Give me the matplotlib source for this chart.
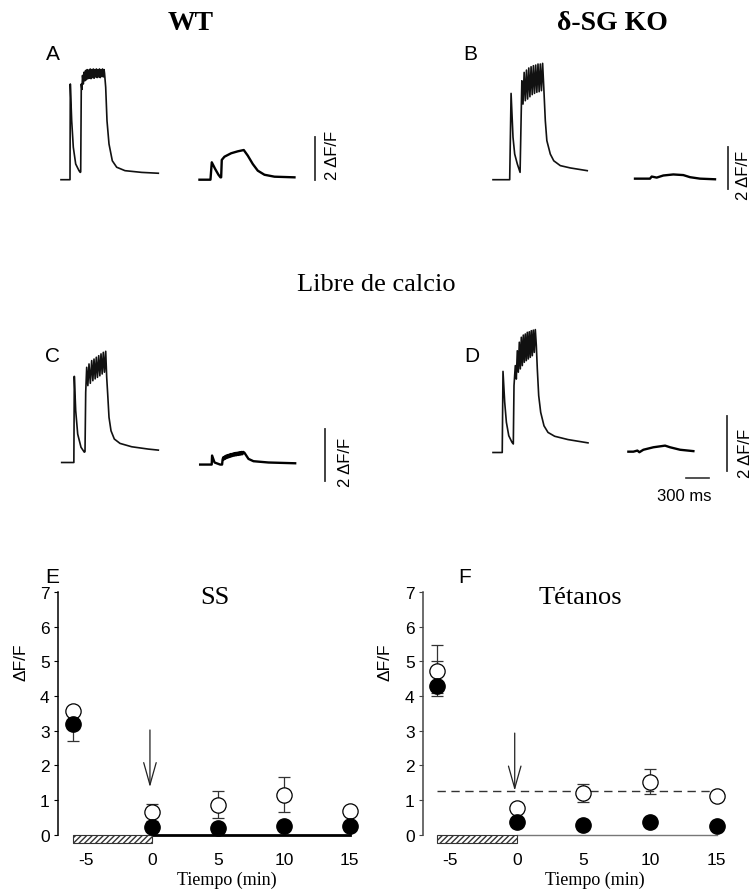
import numpy as np
import matplotlib.pyplot as plt

plt.rcParams['axes.unicode_minus'] = False

# figure size in pixels (dpi 100)
W, H = 756, 895
MS_PER_PX = 13.0  # time scale of the traces (300 ms bar = 23 px)

SANS = ['Liberation Sans', 'DejaVu Sans']
SERIF = ['Liberation Serif', 'DejaVu Serif']

# ---------------- fluorescence traces (time in ms, dF/F) ----------------
# A: WT, control
tA1 = [0, 117, 121, 139, 160, 191, 234, 250, 256, 264,
       272, 280, 290, 300, 310, 320, 330, 340, 350, 360, 370, 380, 390, 400,
       410, 420, 430, 440, 450, 460, 470, 480, 490, 500, 510, 520, 530, 540,
       550, 560, 566, 581, 598, 624, 667, 724, 832, 1049, 1265]
yA1 = [0, 0, 4.45, 2.74, 1.51, 0.73, 0.42, 0.34, 0.36, 4.45,
       4.2, 4.85, 4.45, 5.0, 4.6, 5.08, 4.65, 5.12, 4.7, 5.1, 4.72, 5.15, 4.7, 5.12,
       4.75, 5.15, 4.72, 5.12, 4.78, 5.15, 4.75, 5.12, 4.78, 5.15, 4.75, 5.12, 4.8, 5.15,
       4.78, 5.12, 4.95, 4.3, 2.74, 1.66, 0.88, 0.58, 0.42, 0.34, 0.30]
tA2 = [0, 143, 160, 204, 247, 273, 282, 290, 325, 412, 498, 576, 628, 693, 758, 845, 975, 1235]
yA2 = [0, 0, 0.81, 0.5, 0.23, 0.11, 0.11, 0.92, 1.07, 1.23, 1.32, 1.38, 1.12, 0.73, 0.42, 0.23, 0.14, 0.11]

# B: d-SG KO, control
tB1 = [0, 217, 235, 260, 282, 316, 352,
       375, 390, 405, 420, 435, 450, 465, 480, 495, 510, 525, 540, 555, 570,
       585, 600, 615, 630, 645,
       660, 680, 700, 745, 790, 875, 1005, 1225]
yB1 = [0, 0, 4.11, 2.02, 1.22, 0.75, 0.35,
       4.71, 3.6, 5.11, 3.76, 5.22, 3.84, 5.32, 3.95, 5.38, 4.05, 5.43, 4.11, 5.46, 4.16,
       5.51, 4.19, 5.51, 4.24, 5.54,
       4.4, 2.81, 1.86, 1.22, 0.9, 0.67, 0.56, 0.43]
tB2 = [0, 195, 217, 282, 368, 498, 628, 715, 845, 1040]
yB2 = [0.05, 0.05, 0.15, 0.1, 0.2, 0.25, 0.22, 0.12, 0.05, 0.02]

# C: WT, calcium free
tC1 = [0, 158, 164, 182, 208, 251, 294, 303, 312,
       325, 340, 355, 372, 390, 405, 420, 435, 450, 465, 481, 496, 511, 526,
       541, 556, 572, 585,
       598, 615, 641, 684, 758, 910, 1126, 1256]
yC1 = [0, 0, 3.34, 2.01, 1.1, 0.59, 0.4, 0.42, 2.72,
       3.69, 2.98, 3.82, 3.07, 3.95, 3.17, 4.01, 3.24, 4.08, 3.3, 4.14, 3.36, 4.21, 3.43,
       4.27, 3.5, 4.31, 3.3,
       2.65, 1.75, 1.23, 0.91, 0.74, 0.61, 0.52, 0.48]
tC2 = [0, 150, 155, 187, 260, 285, 292,
       300, 310, 320, 330, 340, 350, 360, 370, 380, 390, 400, 410, 420, 430,
       440, 450, 460, 470, 480, 490, 500, 510, 520, 530, 540, 550, 560, 575,
       628, 693, 888, 1235]
yC2 = [-0.08, -0.08, 0.27, 0.0, -0.08, -0.08, 0.12,
       0.2, 0.12, 0.24, 0.15, 0.27, 0.18, 0.29, 0.2, 0.31, 0.22, 0.33, 0.24, 0.34, 0.26,
       0.36, 0.27, 0.37, 0.28, 0.38, 0.29, 0.39, 0.3, 0.4, 0.31, 0.41, 0.32, 0.41, 0.38,
       0.14, 0.05, 0.0, -0.03]

# D: d-SG KO, calcium free
tD1 = [0, 120, 130, 152, 174, 205, 247, 264, 273,
       290, 303, 316, 329, 342, 355, 368, 381, 394, 407, 420, 433, 446, 459,
       472, 485, 498, 511, 524, 537, 550, 563,
       576, 594, 620, 663, 715, 802, 975, 1235]
yD1 = [0, 0, 2.95, 1.83, 1.1, 0.61, 0.37, 0.31, 2.43,
       3.16, 2.67, 3.7, 2.92, 4.01, 3.04, 4.19, 3.16, 4.27, 3.28, 4.31, 3.34, 4.37, 3.4,
       4.39, 3.46, 4.43, 3.52, 4.45, 3.64, 4.47, 3.9,
       3.04, 2.07, 1.46, 0.97, 0.73, 0.59, 0.47, 0.35]
tD2 = [0, 65, 117, 143, 195, 325, 477, 542, 672, 845]
yD2 = [0.03, 0.03, 0.07, 0.01, 0.1, 0.19, 0.25, 0.19, 0.1, 0.05]

# ---------------- summary data (E, F) ----------------
t_min = [-6, 0, 5, 10, 15]
ss_open = [3.57, 0.64, 0.86, 1.15, 0.67]
ss_open_err = [0.12, 0.24, 0.39, 0.5, 0.0]
ss_fill = [3.19, 0.21, 0.18, 0.26, 0.24]
ss_fill_err_lo = [0.5, 0.05, 0.05, 0.05, 0.05]
ss_fill_err_hi = [0, 0, 0, 0, 0]

tet_open = [4.73, 0.76, 1.2, 1.53, 1.11]
tet_open_err = [0.74, 0.1, 0.26, 0.36, 0.1]
tet_fill = [4.28, 0.36, 0.29, 0.37, 0.26]
tet_fill_err_lo = [0.2, 0.05, 0.05, 0.05, 0.05]
tet_fill_err_hi = [0.72, 0, 0, 0, 0]
tet_ref = 1.26  # dashed reference level

hatch_span = [-6, 0]
hatch_depth = 0.25

fig = plt.figure(figsize=(W / 100, H / 100), dpi=100)


def fpos(x, y):
    return x / W, 1 - y / H


def trace_axes(box, t0, base, s):
    l, t, r, b = box
    ax = fig.add_axes([l / W, 1 - b / H, (r - l) / W, (b - t) / H])
    ax.set_xlim((l - t0) * MS_PER_PX, (r - t0) * MS_PER_PX)
    ax.set_ylim((base - b) / s, (base - t) / s)
    ax.axis('off')
    return ax


def draw_panel(ax, t1, y1, t2, y2, off2, bar_t, bar_y, lab_t, lab_y):
    ax.plot(t1, y1, color='#111111', lw=1.2, clip_on=False)
    ax.plot(np.array(t2) + off2, y2, color='black', lw=1.7, clip_on=False)
    ax.plot([bar_t, bar_t], [bar_y, bar_y + 2], color='#333333', lw=1.3, clip_on=False)
    ax.text(lab_t, lab_y, '2 \u0394F/F', rotation=90, ha='center', va='bottom',
            fontsize=12, family=SANS, clip_on=False)


axA = trace_axes((40, 40, 390, 205), 61, 180.7, 21.5)
draw_panel(axA, tA1, yA1, tA2, yA2, 1800, 3302, 0.0, 3536, 0.03)

axB = trace_axes((470, 40, 756, 205), 493, 180.7, 21.0)
draw_panel(axB, tB1, yB1, tB2, yB2, 1846, 3055, -0.44, 3250, -0.92)

axC = trace_axes((40, 330, 390, 495), 61.7, 463.5, 25.8)
draw_panel(axC, tC1, yC1, tC2, yC2, 1800, 3423, -0.7, 3683, -0.91)

axD = trace_axes((470, 310, 756, 510), 493, 453.5, 27.5)
draw_panel(axD, tD1, yD1, tD2, yD2, 1760, 3038, -0.66, 3289, -0.89)
axD.plot([2509, 2808], [-0.93, -0.93], color='#333333', lw=1.2, clip_on=False)
axD.text(2483, -1.58, '300 ms', ha='center', va='center', fontsize=12,
         family=SANS, clip_on=False)


# ---------------- E and F ----------------
def summary_axes(l, r, xleft, spine_col):
    top, bottom = 593, 847.8
    ax = fig.add_axes([l / W, 1 - bottom / H, (r - l) / W, (bottom - top) / H])
    ax.set_xlim(xleft, 16)
    ax.set_ylim(-0.35, 7)
    for s in ['top', 'right', 'bottom']:
        ax.spines[s].set_visible(False)
    ax.spines['left'].set_bounds(0, 7)
    ax.spines['left'].set_color(spine_col)
    ax.spines['left'].set_linewidth(1.1)
    ax.set_yticks(range(0, 8))
    ax.set_xticks([-5, 0, 5, 10, 15])
    ax.tick_params(axis='y', direction='out', length=3, pad=3, labelsize=12.5,
                   color=spine_col)
    ax.tick_params(axis='x', length=0, pad=4, labelsize=12.5)
    for lab in ax.get_xticklabels() + ax.get_yticklabels():
        lab.set_family(SANS)
    ax.set_xlabel('Tiempo (min)', fontsize=13, family=SERIF)
    ax.set_ylabel('\u0394F/F', fontsize=12.5, family=SANS)
    return ax


def summary_data(ax, o, oe, f, flo, fhi):
    ax.errorbar(t_min, o, yerr=oe, fmt='none', ecolor='#333333', elinewidth=0.9,
                capsize=4, capthick=0.9, zorder=3, clip_on=False)
    ax.errorbar(t_min, f, yerr=[flo, fhi], fmt='none', ecolor='#333333',
                elinewidth=0.9, capsize=4, capthick=0.9, zorder=3, clip_on=False)
    ax.plot(t_min, o, 'o', ms=11, mfc='white', mec='black', mew=0.9,
            ls='none', zorder=4, clip_on=False)
    ax.plot(t_min, f, 'o', ms=11, mfc='black', mec='black', ls='none',
            zorder=5, clip_on=False)
    ax.bar((hatch_span[0] + hatch_span[1]) / 2, hatch_depth,
           width=hatch_span[1] - hatch_span[0], bottom=-hatch_depth,
           color='white', edgecolor='#333333', hatch='//////', lw=0.8,
           zorder=2, clip_on=False)


axE = summary_axes(58, 363, -7.12, 'black')
axE.plot([0, 15], [0, 0], color='black', lw=2, zorder=1)
summary_data(axE, ss_open, ss_open_err, ss_fill, ss_fill_err_lo, ss_fill_err_hi)
axE.annotate('', xy=(-0.15, 1.37), xytext=(-0.15, 3.02),
             arrowprops=dict(arrowstyle='->, head_length=1.6, head_width=0.45',
                             color='#222222', lw=0.9, shrinkA=0, shrinkB=0))
axE.text(4.8, 6.68, 'SS', ha='center', va='baseline', fontsize=19, family=SERIF)
axE.xaxis.set_label_coords((227 - 58) / 305, -0.092)
axE.yaxis.set_label_coords(-0.098, 0.73)

axF = summary_axes(423, 730, -7.03, '#444444')
axF.plot([0, 15], [0, 0], color='#777777', lw=1, zorder=1)
axF.plot([-6, 15], [tet_ref, tet_ref], color='#333333', lw=1, ls=(0, (6, 4)), zorder=1)
summary_data(axF, tet_open, tet_open_err, tet_fill, tet_fill_err_lo, tet_fill_err_hi)
axF.annotate('', xy=(-0.15, 1.27), xytext=(-0.15, 2.93),
             arrowprops=dict(arrowstyle='->, head_length=1.6, head_width=0.45',
                             color='#222222', lw=0.9, shrinkA=0, shrinkB=0))
axF.text(4.75, 6.68, 'T\u00e9tanos', ha='center', va='baseline', fontsize=19,
         family=SERIF)
axF.xaxis.set_label_coords((595 - 423) / 307, -0.092)
axF.yaxis.set_label_coords((393 - 423) / 307, 0.73)

# ---------------- figure level labels ----------------
fig.text(*fpos(191, 23), 'WT', ha='center', va='center', fontsize=20,
         fontweight='bold', family=SERIF)
fig.text(*fpos(612, 24), '\u03b4-SG KO', ha='center', va='center', fontsize=20,
         fontweight='bold', family=SERIF)
fig.text(*fpos(376, 285), 'Libre de calcio', ha='center', va='center',
         fontsize=19, family=SERIF)
for letter, x, y in [('A', 53, 55), ('B', 470, 55), ('C', 52, 357),
                     ('D', 472, 357), ('E', 52, 578), ('F', 465, 578)]:
    fig.text(*fpos(x, y), letter, ha='center', va='center', fontsize=15,
             family=SANS)

fig.savefig('out.png', dpi=100)
